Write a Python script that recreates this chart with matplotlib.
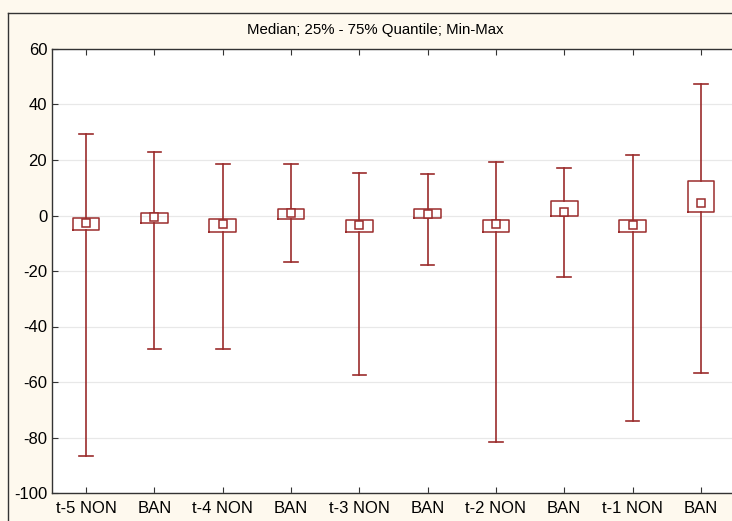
import numpy as np
import matplotlib.pyplot as plt

plt.rcParams['font.family'] = ['Liberation Sans', 'DejaVu Sans']
plt.rcParams['axes.unicode_minus'] = False

labels = ['t-5 NON', 'BAN', 't-4 NON', 'BAN', 't-3 NON', 'BAN', 't-2 NON', 'BAN', 't-1 NON', 'BAN']
medians = [-2.6, -0.5, -2.9, 0.8, -3.3, 0.6, -3.2, 1.1, -3.4, 4.6]
q1 = [-5.1, -2.6, -6.0, -1.4, -5.8, -1.0, -5.8, -0.2, -5.9, 1.1]
q3 = [-0.8, 1.0, -1.2, 2.3, -1.5, 2.2, -1.5, 5.1, -1.5, 12.5]
mins = [-86.5, -48.0, -48.0, -16.6, -57.5, -18.0, -81.5, -22.0, -74.0, -56.7]
maxs = [29.5, 22.8, 18.4, 18.4, 15.4, 15.0, 19.4, 17.2, 21.8, 47.5]

color = '#9b2c2c'
bg = '#fef9ee'

fig = plt.figure(figsize=(7.32, 5.21), dpi=100, facecolor=bg)
# outer frame, open to the right and bottom
fig.add_artist(plt.Line2D([8/732, 8/732], [0, 1 - 13/521], transform=fig.transFigure,
                          color='#333333', linewidth=1.0))
fig.add_artist(plt.Line2D([8/732, 1], [1 - 13/521, 1 - 13/521], transform=fig.transFigure,
                          color='#333333', linewidth=1.0))
ax = fig.add_axes([52/732, 28/521, (735-52)/732, (493-49)/521])
ax.set_facecolor('white')

stats = []
for i in range(len(labels)):
    stats.append({'med': medians[i], 'q1': q1[i], 'q3': q3[i],
                  'whislo': mins[i], 'whishi': maxs[i], 'fliers': []})

pos = np.arange(1, len(labels) + 1)
ax.bxp(stats, positions=pos, widths=0.39, capwidths=0.2, showfliers=False,
       boxprops=dict(color=color, linewidth=1.1),
       whiskerprops=dict(color=color, linewidth=1.2),
       capprops=dict(color=color, linewidth=1.2),
       medianprops=dict(linestyle='none'))
ax.plot(pos, medians, 's', markersize=6, markerfacecolor='white',
        markeredgecolor=color, markeredgewidth=1.1, linestyle='none', zorder=5)

ax.set_xlim(0.5, 10.5)
ax.set_ylim(-100, 60)
ax.set_yticks(np.arange(-100, 61, 20))
ax.set_xticks(pos)
ax.set_xticklabels(labels)
ax.yaxis.grid(True, color='#e8e8e8', linewidth=0.9)
ax.set_axisbelow(True)
ax.tick_params(axis='both', direction='in', labelsize=12, length=4, color='#333333')
ax.tick_params(axis='x', top=True, pad=6)
for s in ax.spines.values():
    s.set_color('#333333')
    s.set_linewidth(1.0)
ax.spines['right'].set_visible(False)

fig.text(375/732, 1 - 30/521, 'Median; 25% - 75% Quantile; Min-Max', ha='center', va='center', fontsize=10.8)

fig.savefig('out.png', dpi=100, facecolor=bg)
